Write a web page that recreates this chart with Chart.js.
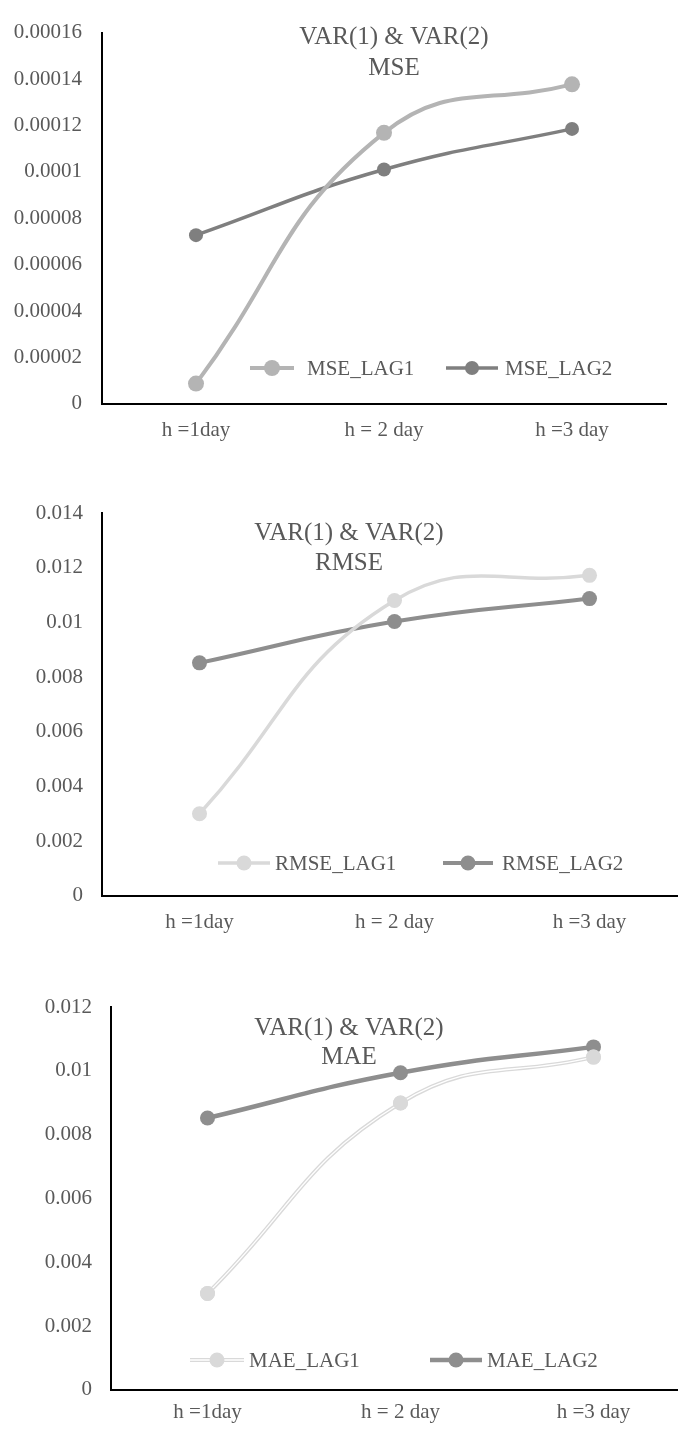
<!DOCTYPE html>
<html>
<head>
<meta charset="utf-8">
<script src="https://cdn.jsdelivr.net/npm/chart.js@4/dist/chart.umd.min.js"></script>
<style>
  html, body { margin: 0; padding: 0; background: #fff; }
  body { width: 678px; height: 1441px; overflow: hidden; position: relative; }
  .box { position: absolute; left: 0; width: 678px; overflow: hidden; }
</style>
</head>
<body>
<div class="box" style="top:0;height:480px"><canvas id="mseChart"></canvas></div>
<div class="box" style="top:480px;height:480px"><canvas id="rmseChart"></canvas></div>
<div class="box" style="top:960px;height:481px"><canvas id="maeChart"></canvas></div>
<script>
const horizons = ["h =1day", "h = 2 day", "h =3 day"];

const mseLag1 = [0.0000087, 0.0001168, 0.0001377];
const mseLag2 = [0.0000727, 0.000101, 0.0001185];
const mseTicks = ["0", "0.00002", "0.00004", "0.00006", "0.00008", "0.0001", "0.00012", "0.00014", "0.00016"];

const rmseLag1 = [0.003, 0.0108, 0.01172];
const rmseLag2 = [0.00852, 0.01003, 0.01087];
const rmseTicks = ["0", "0.002", "0.004", "0.006", "0.008", "0.01", "0.012", "0.014"];

const maeLag1 = [0.00302, 0.00899, 0.01043];
const maeLag2 = [0.00852, 0.00994, 0.01075];
const maeTicks = ["0", "0.002", "0.004", "0.006", "0.008", "0.01", "0.012"];

const FONT = "'Liberation Serif', 'Times New Roman', serif";
const TEXT = "#595959";

// title + legend drawn inside the plot, like the excel original
const overlay = {
  id: "overlay",
  afterDatasetsDraw(chart, args, opts) {
    const ctx = chart.ctx;
    ctx.save();
    ctx.fillStyle = TEXT;
    ctx.textAlign = "center";
    ctx.textBaseline = "middle";
    ctx.font = "25px " + FONT;
    opts.title.lines.forEach((t, i) => {
      ctx.fillText(t, opts.title.x, opts.title.y + i * opts.title.gap);
    });

    ctx.font = "21px " + FONT;
    ctx.textAlign = "left";
    opts.legend.items.forEach((it, i) => {
      const ds = chart.data.datasets[i];
      const y = opts.legend.y;
      ctx.strokeStyle = ds.borderColor;
      ctx.lineWidth = ds.borderWidth;
      ctx.beginPath();
      ctx.moveTo(it.x1, y);
      ctx.lineTo(it.x2, y);
      ctx.stroke();
      if (ds.doubleLine) {
        ctx.strokeStyle = "#fff";
        ctx.lineWidth = 1.3;
        ctx.beginPath();
        ctx.moveTo(it.x1, y);
        ctx.lineTo(it.x2, y);
        ctx.stroke();
      }
      ctx.fillStyle = ds.pointBackgroundColor;
      ctx.beginPath();
      ctx.arc((it.x1 + it.x2) / 2, y, ds.pointRadius, 0, Math.PI * 2);
      ctx.fill();
      ctx.fillStyle = TEXT;
      ctx.fillText(ds.label, it.tx, y + 1);
    });
    ctx.restore();
  }
};

// compound (double) line for MAE_LAG1
const doubleLine = {
  id: "doubleLine",
  afterDatasetDraw(chart, args) {
    const ds = chart.data.datasets[args.index];
    if (!ds.doubleLine) return;
    const ctx = chart.ctx;
    const line = args.meta.dataset;
    ctx.save();
    ctx.beginPath();
    line.path(ctx);
    ctx.strokeStyle = "#fff";
    ctx.lineWidth = 1.3;
    ctx.stroke();
    ctx.restore();
    args.meta.data.forEach((p) => p.draw(ctx, chart.chartArea));
  }
};

function makeChart(id, cfg) {
  const canvas = document.getElementById(id);
  canvas.width = cfg.width;
  canvas.height = cfg.height;
  canvas.style.width = cfg.width + "px";
  canvas.style.height = cfg.height + "px";

  return new Chart(canvas, {
    type: "line",
    data: {
      labels: horizons,
      datasets: cfg.series.map((s) => ({
        label: s.label,
        data: s.data,
        borderColor: s.color,
        backgroundColor: s.color,
        pointBackgroundColor: s.color,
        pointBorderColor: s.color,
        borderWidth: s.width,
        pointRadius: s.radius,
        pointBorderWidth: 0,
        tension: 0.45,
        doubleLine: s.doubleLine || false,
      })),
    },
    options: {
      responsive: false,
      animation: false,
      layout: { padding: cfg.padding },
      plugins: {
        legend: { display: false },
        tooltip: { enabled: false },
        overlay: { title: cfg.title, legend: cfg.legend },
      },
      scales: {
        x: {
          offset: true,
          grid: { display: false, drawTicks: false },
          border: { color: "#000", width: 2 },
          ticks: { color: TEXT, font: { family: FONT, size: 21 }, padding: cfg.xPad, maxRotation: 0 },
        },
        y: {
          min: 0,
          max: cfg.max,
          afterFit: (s) => { s.width = cfg.axisLeft; },
          grid: { display: false, drawTicks: false },
          border: { color: "#000", width: 2 },
          ticks: {
            stepSize: cfg.max / (cfg.tickLabels.length - 1),
            color: TEXT,
            font: { family: FONT, size: 21 },
            padding: cfg.yPad,
            callback: (v, i) => cfg.tickLabels[i],
          },
        },
      },
    },
    plugins: [doubleLine, overlay],
  });
}

makeChart("mseChart", {
  width: 678, height: 480,
  padding: { top: 18, right: 12, bottom: 23, left: 0 },
  axisLeft: 102, xPad: 14, yPad: 20,
  max: 0.00016, tickLabels: mseTicks,
  series: [
    { label: "MSE_LAG1", data: mseLag1, color: "#b4b4b4", width: 4, radius: 8 },
    { label: "MSE_LAG2", data: mseLag2, color: "#7f7f7f", width: 3.5, radius: 7 },
  ],
  title: { lines: ["VAR(1) & VAR(2)", "MSE"], x: 394, y: 37, gap: 31 },
  legend: { y: 368, items: [{ x1: 250, x2: 294, tx: 307 }, { x1: 446, x2: 498, tx: 505 }] },
});

makeChart("rmseChart", {
  width: 700, height: 480,
  padding: { top: 33, right: 13, bottom: 11, left: 0 },
  axisLeft: 102, xPad: 14, yPad: 19,
  max: 0.014, tickLabels: rmseTicks,
  series: [
    { label: "RMSE_LAG1", data: rmseLag1, color: "#d9d9d9", width: 3.5, radius: 7.5 },
    { label: "RMSE_LAG2", data: rmseLag2, color: "#8e8e8e", width: 4, radius: 7.5 },
  ],
  title: { lines: ["VAR(1) & VAR(2)", "RMSE"], x: 349, y: 53, gap: 30 },
  legend: { y: 383, items: [{ x1: 218, x2: 270, tx: 275 }, { x1: 443, x2: 493, tx: 502 }] },
});

makeChart("maeChart", {
  width: 700, height: 481,
  padding: { top: 47, right: 10, bottom: 6, left: 0 },
  axisLeft: 111, xPad: 10, yPad: 19,
  max: 0.012, tickLabels: maeTicks,
  series: [
    { label: "MAE_LAG1", data: maeLag1, color: "#d9d9d9", width: 4, radius: 7.5, doubleLine: true },
    { label: "MAE_LAG2", data: maeLag2, color: "#8e8e8e", width: 4.5, radius: 7.5 },
  ],
  title: { lines: ["VAR(1) & VAR(2)", "MAE"], x: 349, y: 68, gap: 29 },
  legend: { y: 400, items: [{ x1: 190, x2: 244, tx: 249 }, { x1: 430, x2: 482, tx: 487 }] },
});
</script>
</body>
</html>
